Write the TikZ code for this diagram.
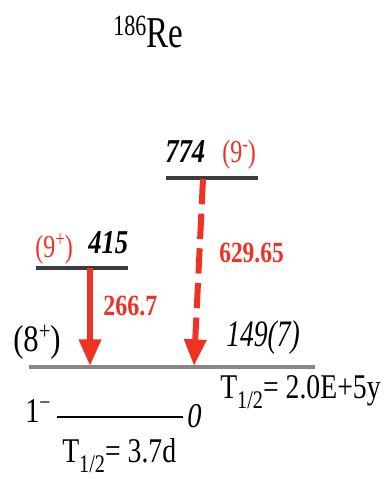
\documentclass[tikz,border=0pt]{standalone}
\usepackage{fontspec}
\setmainfont{Liberation Serif}
\usepackage{graphicx}
\usetikzlibrary{arrows.meta}
\definecolor{gamred}{RGB}{238,50,36}
\definecolor{lvlgray}{RGB}{60,60,60}
\definecolor{gndgray}{RGB}{135,135,135}
\newcommand{\sq}[2][0.85]{\scalebox{#1}[1]{#2}}
\newcommand{\upsc}[3]{\raisebox{#2}{\fontsize{#1}{#1}\selectfont #3}}
\newcommand{\thalf}{T\raisebox{-8pt}{\fontsize{19}{19}\selectfont 1/2}=}

\begin{document}
\begin{tikzpicture}[x=0.75pt,y=-0.75pt,
    lvl/.style={line width=2.4pt,draw=lvlgray},
    txt/.style={inner sep=0pt,anchor=base west,font=\fontsize{26}{26}\selectfont},
    spin/.style={txt,text=gamred,font=\fontsize{24}{24}\selectfont},
    elbl/.style={txt,font=\fontsize{25}{25}\selectfont\bfseries\itshape},
    glbl/.style={txt,text=gamred,font=\fontsize{22}{22}\selectfont\bfseries},
    gam/.style={draw=gamred,line width=4.5pt,-{Triangle[length=20pt,width=16pt]}}]
    \useasboundingbox (0,0) rectangle (386,479);
    % nucleus
    \node[txt] (nuc) at (113,47) {\sq[0.75]{\upsc{22}{9pt}{186}\fontsize{33}{33}\selectfont Re}};
    % levels
    \draw[lvl] (166,178) coordinate (l774a) -- (258,178) coordinate (l774b);
    \draw[lvl] (36,268) coordinate (l415a) -- (128,268) coordinate (l415b);
    \draw[line width=2.6pt,draw=gndgray] (29,367) coordinate (l149a) -- (315,367) coordinate (l149b);
    \draw[line width=1.2pt] (57,417) coordinate (l0a) -- (183,417) coordinate (l0b);
    \node[elbl] (e774) at (165,162) {\sq[0.8]{774}};
    \node[spin] (j774) at (222,162) {\sq[0.75]{(9\upsc{17}{8pt}{-})}};
    \node[spin] (j415) at (35,257) {\sq[0.75]{(9\upsc{17}{8pt}{+})}};
    \node[elbl] (e415) at (88,253) {\sq[0.8]{415}};
    \node[txt] (j149) at (13,351) {\sq[0.82]{\fontsize{28}{28}\selectfont(8\upsc{19}{9pt}{+})}};
    \node[txt] (e149) at (226,346) {\sq[0.74]{\fontsize{28}{28}\selectfont\itshape 149(7)}};
    \node[txt] (t149) at (220,398) {\sq[0.8]{\thalf{} 2.0E+5y}};
    \node[txt] (j0) at (25,422) {\sq[0.82]{1\upsc{18}{9pt}{−}}};
    \node[txt] (e0) at (187,427) {\sq[0.82]{\itshape 0}};
    \node[txt] (t0) at (62,462) {\sq[0.8]{\thalf{} 3.7d}};
    % gammas
    \coordinate (g1s) at (90,268);
    \coordinate (g1e) at (90,366);
    \coordinate (g2s) at (203,179);
    \coordinate (g2e) at (194,366);
    \draw[gam] (g1s) -- (g1e);
    \draw[gam,dash pattern=on 19pt off 7pt] (g2s) -- (g2e);
    \node[glbl] (t266) at (103,315) {\sq[0.82]{266.7}};
    \node[glbl] (t629) at (219,262) {\sq[0.8]{629.65}};
\end{tikzpicture}
\end{document}
